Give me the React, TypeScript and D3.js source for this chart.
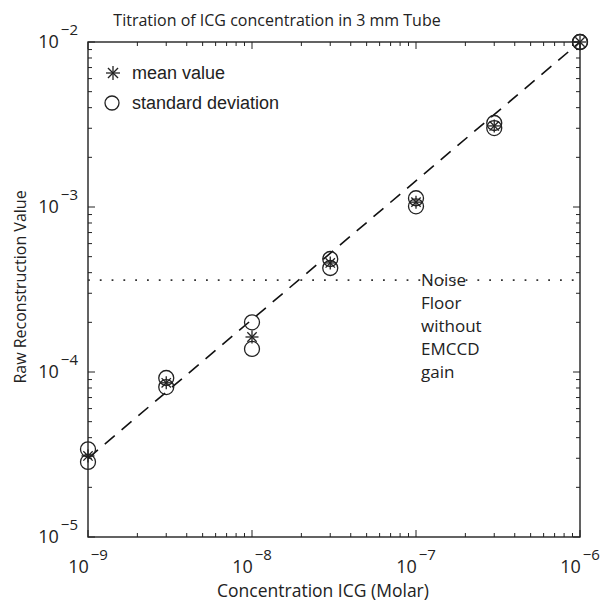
import React from "react";
import * as d3 from "d3";

const concentrations = [1e-9, 3e-9, 1e-8, 3e-8, 1e-7, 3e-7, 1e-6];
const meanValues = [3.1e-5, 8.6e-5, 1.63e-4, 4.58e-4, 1.07e-3, 3.1e-3, 1.0e-2];
const sdUpper = [3.4e-5, 9.2e-5, 2.0e-4, 4.84e-4, 1.13e-3, 3.23e-3, 1.0e-2];
const sdLower = [2.85e-5, 8.1e-5, 1.38e-4, 4.27e-4, 1.01e-3, 3.01e-3, 1.0e-2];
const fitX = [1e-9, 1e-6];
const fitY = [3.0e-5, 1.0e-2];
const noiseFloor = 3.6e-4;
const noiseLabel = ["Noise", "Floor", "without", "EMCCD", "gain"];
const xTickExps = [-9, -8, -7, -6];
const yTickExps = [-5, -4, -3, -2];
const legendLabels = ["mean value", "standard deviation"];

const W = 610;
const H = 602;
const left = 88, right = 580, top = 42, bottom = 537;
const FONT = "'Open Sans', sans-serif";
const ARIAL = "'Liberation Sans', Arial, sans-serif";

function Asterisk({ cx, cy, r }: { cx: number; cy: number; r: number }) {
  const d = r * 0.72;
  return (
    <g stroke="#222" strokeWidth={1.3}>
      <line x1={cx - r} y1={cy} x2={cx + r} y2={cy} />
      <line x1={cx} y1={cy - r} x2={cx} y2={cy + r} />
      <line x1={cx - d} y1={cy - d} x2={cx + d} y2={cy + d} />
      <line x1={cx - d} y1={cy + d} x2={cx + d} y2={cy - d} />
    </g>
  );
}

export default function App() {
  const x = d3.scaleLog().domain([1e-9, 1e-6]).range([left, right]);
  const y = d3.scaleLog().domain([1e-5, 1e-2]).range([bottom, top]);

  const minor = (lo: number, hi: number) => {
    const out: number[] = [];
    for (let e = lo; e < hi; e++) {
      for (let m = 2; m <= 9; m++) out.push(m * Math.pow(10, e));
    }
    return out;
  };
  const xMinor = minor(-9, -6);
  const yMinor = minor(-5, -2);
  const xMajor = xTickExps.map((e) => Math.pow(10, e));
  const yMajor = yTickExps.map((e) => Math.pow(10, e));
  const MAJ = 7, MIN = 4;

  const fitLine = d3
    .line<number>()
    .x((_, i) => x(fitX[i]))
    .y((d) => y(d))(fitY) as string;

  return (
    <svg
      width={W}
      height={H}
      style={{ position: "absolute", left: 0, top: 0, background: "#fff" }}
    >
      <rect x={0} y={0} width={W} height={H} fill="#fff" />
      {/* title */}
      <text x={277} y={26} textAnchor="middle" fontFamily={FONT} fontSize={16} fill="#222">
        Titration of ICG concentration in 3 mm Tube
      </text>

      {/* ticks */}
      <g stroke="#222" strokeWidth={1}>
        {xMajor.map((v, i) => (
          <g key={"xM" + i}>
            <line x1={x(v)} x2={x(v)} y1={bottom} y2={bottom - MAJ} />
            <line x1={x(v)} x2={x(v)} y1={top} y2={top + MAJ} />
          </g>
        ))}
        {xMinor.map((v, i) => (
          <g key={"xm" + i}>
            <line x1={x(v)} x2={x(v)} y1={bottom} y2={bottom - MIN} />
            <line x1={x(v)} x2={x(v)} y1={top} y2={top + MIN} />
          </g>
        ))}
        {yMajor.map((v, i) => (
          <g key={"yM" + i}>
            <line x1={left} x2={left + MAJ} y1={y(v)} y2={y(v)} />
            <line x1={right} x2={right - MAJ} y1={y(v)} y2={y(v)} />
          </g>
        ))}
        {yMinor.map((v, i) => (
          <g key={"ym" + i}>
            <line x1={left} x2={left + MIN} y1={y(v)} y2={y(v)} />
            <line x1={right} x2={right - MIN} y1={y(v)} y2={y(v)} />
          </g>
        ))}
      </g>
      <rect x={left} y={top} width={right - left} height={bottom - top} fill="none" stroke="#222" strokeWidth={1.4} />

      {/* x tick labels */}
      {xTickExps.map((e) => (
        <text key={"xl" + e} x={x(Math.pow(10, e))} y={573} textAnchor="middle" fontFamily={FONT} fontSize={18} fill="#222">
          10
          <tspan dx={2} dy={-13} fontSize={15}>{"\u2212" + Math.abs(e)}</tspan>
        </text>
      ))}
      {/* y tick labels */}
      {yTickExps.map((e) => (
        <text key={"yl" + e} x={78} y={y(Math.pow(10, e)) + 6} textAnchor="end" fontFamily={FONT} fontSize={18} fill="#222">
          10
          <tspan dx={2} dy={-13} fontSize={15}>{"\u2212" + Math.abs(e)}</tspan>
        </text>
      ))}

      {/* axis titles */}
      <text x={323} y={597} textAnchor="middle" fontFamily={FONT} fontSize={17.5} fill="#222">
        Concentration ICG (Molar)
      </text>
      <text transform={`translate(26,${287}) rotate(-90)`} textAnchor="middle" fontFamily={FONT} fontSize={16} fill="#222">
        Raw Reconstruction Value
      </text>

      {/* noise floor */}
      <line x1={left} x2={right} y1={y(noiseFloor)} y2={y(noiseFloor)} stroke="#333" strokeWidth={1.8} strokeDasharray="1.8,10" />
      {noiseLabel.map((t, i) => (
        <text key={t} x={421} y={y(noiseFloor) + 6 + i * 23} fontFamily={FONT} fontSize={17} fill="#222">
          {t}
        </text>
      ))}

      {/* fit line */}
      <path d={fitLine} fill="none" stroke="#111" strokeWidth={1.6} strokeDasharray="13,9" />

      {/* markers */}
      {concentrations.map((c, i) => (
        <g key={"p" + i}>
          <circle cx={x(c)} cy={y(sdUpper[i])} r={7.5} fill="none" stroke="#222" strokeWidth={1.3} />
          <circle cx={x(c)} cy={y(sdLower[i])} r={7.5} fill="none" stroke="#222" strokeWidth={1.3} />
          <Asterisk cx={x(c)} cy={y(meanValues[i])} r={6.5} />
        </g>
      ))}

      {/* legend */}
      <Asterisk cx={113} cy={73} r={7} />
      <circle cx={112} cy={103} r={7} fill="none" stroke="#222" strokeWidth={1.3} />
      <text x={132} y={79} fontFamily={ARIAL} fontSize={18} fill="#222">{legendLabels[0]}</text>
      <text x={132} y={109} fontFamily={ARIAL} fontSize={18} fill="#222">{legendLabels[1]}</text>
    </svg>
  );
}
